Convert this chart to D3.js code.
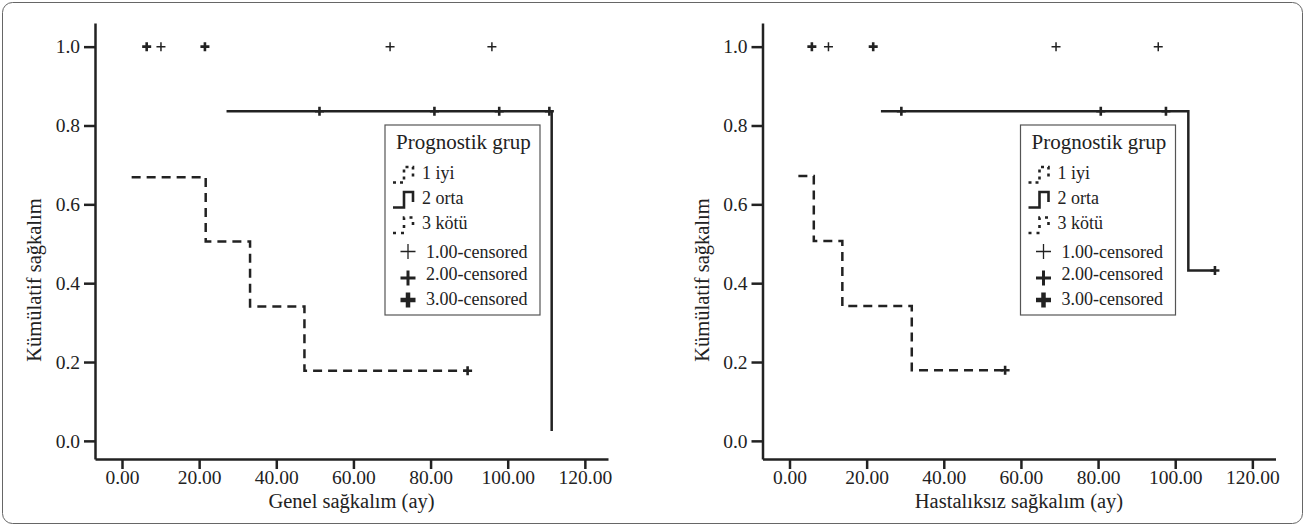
<!DOCTYPE html>
<html lang="tr">
<head>
<meta charset="UTF-8">
<title>Kümülatif sağkalım</title>
<script src="https://d3js.org/d3.v7.min.js"></script>
<style>
  body { margin: 0; background: #fff; }
  svg text { font-family: "Liberation Serif", "Times New Roman", serif; fill: #222; }
  .tick text { font-size: 19.5px; }
  .axisTitle { font-size: 20.5px; text-anchor: middle; }
  .legTitle { font-size: 21px; }
  .legItem { font-size: 18px; }
</style>
</head>
<body>
<script>
// ---- data ----
const xTicks = [0, 20, 40, 60, 80, 100, 120];
const yTicks = [0, 0.2, 0.4, 0.6, 0.8, 1.0];
const groupLabels = ["1 iyi", "2 orta", "3 kötü"];
const censorLabels = ["1.00-censored", "2.00-censored", "3.00-censored"];

// Genel sağkalım (left)
const osTime1 = [];
const osSurv1 = [];
const osTime2 = [27.1, 111.4];
const osSurv2 = [0.836, 0.025];
const osTime3 = [2.5, 21.7, 33.2, 47.3, 89.6];
const osSurv3 = [0.669, 0.506, 0.341, 0.178, 0.178];
const osCens1 = [10.1, 69.5, 95.9];
const osCens2 = [6.4, 21.5, 51.2, 81.0, 97.8, 110.8];
const osCens3 = [89.6];

// Hastalıksız sağkalım (right)
const dfsTime1 = [];
const dfsSurv1 = [];
const dfsTime2 = [23.7, 103.4, 110.3];
const dfsSurv2 = [0.836, 0.432, 0.432];
const dfsTime3 = [2.3, 6.3, 13.7, 31.7, 55.9];
const dfsSurv3 = [0.672, 0.507, 0.342, 0.179, 0.179];
const dfsCens1 = [10.1, 69.1, 95.6];
const dfsCens2 = [5.8, 21.7, 29.0, 80.7, 97.6, 110.3];
const dfsCens3 = [55.9];

const width = 1314, height = 527;
const ink = "#222";

const svg = d3.select("body").append("svg")
    .attr("width", width)
    .attr("height", height);

// outer frame
svg.append("rect")
    .attr("x", 2.5).attr("y", 2.5)
    .attr("width", 1300).attr("height", 521)
    .attr("rx", 10)
    .attr("fill", "none")
    .attr("stroke", "#666")
    .attr("stroke-width", 1);

const lineStyles = [
    { dash: "2,3", w: 2.5 },
    { dash: null, w: 2.5 },
    { dash: "9,6", w: 2.5 }
];
const censorW = [1.5, 2.6, 2.6];

function plus(x, y, a) {
    return `M${x - a},${y}H${x + a}M${x},${y - a}V${y + a}`;
}

function survAt(times, survs, t) {
    let s = 1;
    times.forEach((tt, i) => { if (tt <= t) s = survs[i]; });
    return s;
}

function drawPanel(ox, xTitle, times, survs, cens, legX) {
    const x = d3.scaleLinear().domain([-7, 126]).range([95 + ox, 608 + ox]);
    const y = d3.scaleLinear().domain([-0.046, 1.06]).range([459, 23]);
    const g = svg.append("g");

    const xAxis = g.append("g")
        .attr("transform", "translate(0,459)")
        .call(d3.axisBottom(x).tickValues(xTicks).tickFormat(d3.format(".2f"))
            .tickSize(10).tickSizeOuter(0).tickPadding(1));
    const yAxis = g.append("g")
        .attr("transform", `translate(${95 + ox},0)`)
        .call(d3.axisLeft(y).tickValues(yTicks).tickFormat(d3.format(".1f"))
            .tickSize(11).tickSizeOuter(0).tickPadding(4));
    [xAxis, yAxis].forEach(a => {
        a.select(".domain").attr("stroke", ink).attr("stroke-width", 2.5);
        a.selectAll(".tick line").attr("stroke", ink).attr("stroke-width", 2.5);
        a.selectAll(".tick text").attr("fill", ink);
    });

    g.append("text")
        .attr("class", "axisTitle")
        .attr("x", 351.5 + ox).attr("y", 508)
        .text(xTitle);
    g.append("text")
        .attr("class", "axisTitle")
        .attr("transform", `translate(${41 + ox},280) rotate(-90)`)
        .text("Kümülatif sağkalım");

    const line = d3.line()
        .x(d => x(d[0])).y(d => y(d[1]))
        .curve(d3.curveStepAfter);

    times.forEach((t, i) => {
        if (!t.length) return;
        g.append("path")
            .attr("d", line(t.map((v, j) => [v, survs[i][j]])))
            .attr("fill", "none")
            .attr("stroke", ink)
            .attr("stroke-width", lineStyles[i].w)
            .attr("stroke-dasharray", lineStyles[i].dash);
    });

    cens.forEach((c, i) => {
        c.forEach(t => {
            g.append("path")
                .attr("d", plus(x(t), y(survAt(times[i], survs[i], t)), 4.5))
                .attr("stroke", ink)
                .attr("stroke-width", censorW[i])
                .attr("fill", "none");
        });
    });

    // legend
    const lg = svg.append("g").attr("transform", `translate(${legX},125)`);
    lg.append("rect")
        .attr("width", 155).attr("height", 190)
        .attr("fill", "#fff")
        .attr("stroke", "#555").attr("stroke-width", 1.2);
    lg.append("text").attr("class", "legTitle")
        .attr("x", 11).attr("y", 23.5).text("Prognostik grup");

    const stepRows = [53.5, 78.5, 104];
    groupLabels.forEach((lab, i) => {
        const b = stepRows[i];
        lg.append("path")
            .attr("d", `M8,${b + 4}H19V${b - 11.5}H28V${b - 1.5}`)
            .attr("fill", "none")
            .attr("stroke", ink)
            .attr("stroke-width", 2.6)
            .attr("stroke-dasharray", i === 1 ? null : (i === 0 ? "3,4" : "3,5"));
        lg.append("text").attr("class", "legItem")
            .attr("x", 37).attr("y", b).text(lab);
    });

    const censRows = [132.5, 155, 180];
    const censOff = [-6, -2, -5];
    const censStroke = [1.3, 3, 4.5];
    censorLabels.forEach((lab, i) => {
        const b = censRows[i];
        lg.append("path")
            .attr("d", plus(23, b + censOff[i], 7.5))
            .attr("stroke", ink)
            .attr("stroke-width", censStroke[i]);
        lg.append("text").attr("class", "legItem")
            .attr("x", 41).attr("y", b).text(lab);
    });
}

drawPanel(0, "Genel sağkalım (ay)",
    [osTime1, osTime2, osTime3], [osSurv1, osSurv2, osSurv3],
    [osCens1, osCens2, osCens3], 385);
drawPanel(667.5, "Hastalıksız sağkalım (ay)",
    [dfsTime1, dfsTime2, dfsTime3], [dfsSurv1, dfsSurv2, dfsSurv3],
    [dfsCens1, dfsCens2, dfsCens3], 1020.5);
</script>
</body>
</html>
